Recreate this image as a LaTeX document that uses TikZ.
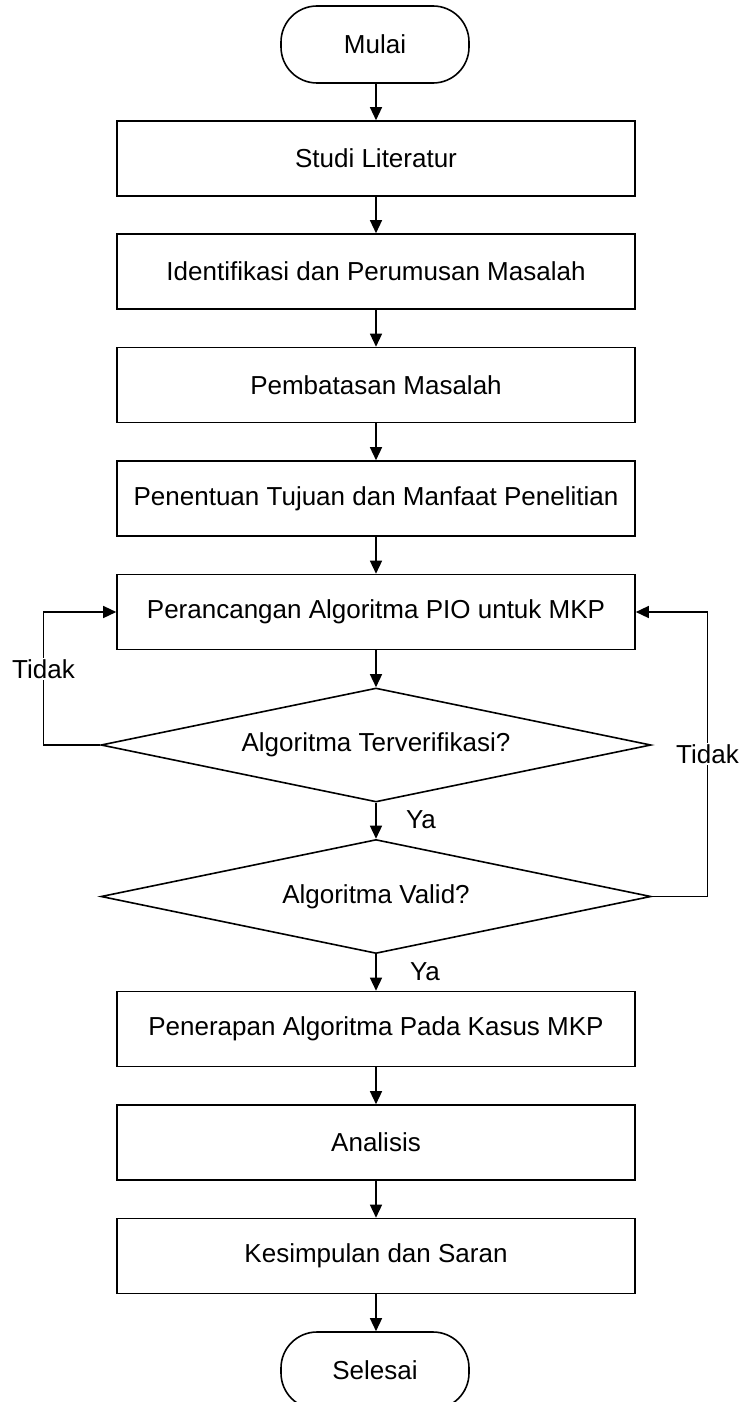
\documentclass[tikz,border=0pt]{standalone}
\usepackage{fontspec}
\setmainfont{Liberation Sans}
\usetikzlibrary{shapes.geometric,arrows.meta}
\begin{document}
\begin{tikzpicture}[x=1pt,y=-1pt,
  every node/.style={font=\fontsize{26}{30}\selectfont, text=black},
  procbox/.style={draw, line width=1.6pt, rectangle, minimum width=518pt, minimum height=75pt, inner sep=0pt},
  termbox/.style={draw, line width=1.6pt, rectangle, rounded corners=36pt, minimum width=188pt, minimum height=77pt, inner sep=0pt},
  decbox/.style={draw, line width=1.6pt, diamond, aspect=4.8, minimum width=550pt, minimum height=114pt, inner sep=0pt},
  arr/.style={line width=1.4pt, -{Triangle[length=13pt,width=12pt]}},
  lbl/.style={fill=white, inner sep=1pt}
]
\useasboundingbox (0,0) rectangle (740,1402);
\node[termbox] (mulai) at (375,44.5) {Mulai};
\node[procbox] (studi) at (376,158.5) {Studi Literatur};
\node[procbox] (ident) at (376,271.5) {Identifikasi dan Perumusan Masalah};
\node[procbox] (batas) at (376,385) {Pembatasan Masalah};
\node[procbox] (tujuan) at (376,498.5) {Penentuan Tujuan dan Manfaat Penelitian};
\node[procbox] (rancang) at (376,612) {Perancangan Algoritma PIO untuk MKP};
\node[decbox] (d1) at (376,745) {Algoritma Terverifikasi?};
\node[decbox] (d2) at (376,896.5) {Algoritma Valid?};
\node[procbox] (terap) at (376,1029) {Penerapan Algoritma Pada Kasus MKP};
\node[procbox] (analisis) at (376,1142.5) {Analisis};
\node[procbox] (simpul) at (376,1256) {Kesimpulan dan Saran};
\node[termbox] (selesai) at (375,1370.5) {Selesai};

\draw[arr] (mulai.south -| studi.north) -- (studi.north);
\draw[arr] (studi) -- (ident);
\draw[arr] (ident) -- (batas);
\draw[arr] (batas) -- (tujuan);
\draw[arr] (tujuan) -- (rancang);
\draw[arr] (rancang) -- (d1);
\draw[arr] (d1) -- (d2);
\draw[arr] (d2) -- (terap);
\draw[arr] (terap) -- (analisis);
\draw[arr] (analisis) -- (simpul);
\draw[arr] (simpul.south) -- (simpul.south |- selesai.north);

\coordinate (l1) at (43.5,745);
\coordinate (l2) at (43.5,612);
\coordinate (r1) at (707.5,896.5);
\coordinate (r2) at (707.5,612);
\draw[arr] (d1.west) -- (l1) -- (l2) -- (rancang.west);
\draw[arr] (d2.east) -- (r1) -- (r2) -- (rancang.east);

\node[lbl] (t1) at (43.5,669) {Tidak};
\node[lbl] (t2) at (707.5,754) {Tidak};
\node (ya1) at (421,820) {Ya};
\node (ya2) at (425,972) {Ya};
\end{tikzpicture}
\end{document}
